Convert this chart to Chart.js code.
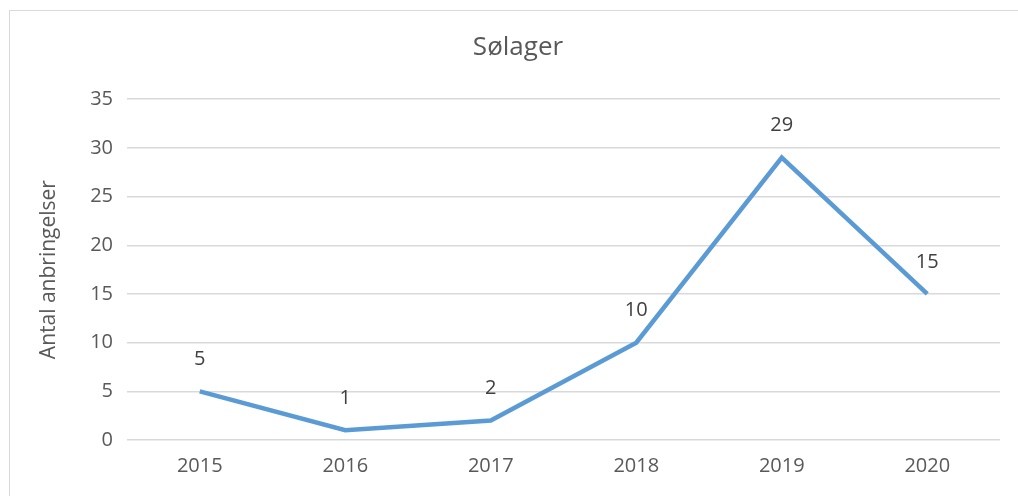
<!DOCTYPE html>
<html>
<head>
<meta charset="utf-8">
<script src="https://cdn.jsdelivr.net/npm/chart.js@4"></script>
<style>
  html, body { margin: 0; padding: 0; background: #fff; overflow: hidden; }
  #frame { position: absolute; left: 9px; top: 10px; width: 1100px; height: 600px;
           border-left: 1px solid #d9d9d9; border-top: 1px solid #d9d9d9; }
  #wrap { position: absolute; left: 0; top: 0; width: 1018px; height: 496px; }
</style>
</head>
<body>
<div id="frame"></div>
<div id="wrap"><canvas id="myChart" width="1018" height="496"></canvas></div>
<script>
// Data
const years = ['2015', '2016', '2017', '2018', '2019', '2020'];
const placements = [5, 1, 2, 10, 29, 15];
const yTicks = [0, 5, 10, 15, 20, 25, 30, 35];

const fontFamily = '"Open Sans", "Liberation Sans", sans-serif';

// draws the value above each point
const valueLabels = {
    id: 'valueLabels',
    afterDatasetsDraw(chart) {
        const ctx = chart.ctx;
        const meta = chart.getDatasetMeta(0);
        ctx.save();
        ctx.font = '20px ' + fontFamily;
        ctx.fillStyle = '#404040';
        ctx.textAlign = 'center';
        ctx.textBaseline = 'middle';
        meta.data.forEach((pt, i) => {
            ctx.fillText(String(placements[i]), pt.x, pt.y - 32);
        });
        ctx.restore();
    }
};

const config = {
    type: 'line',
    data: {
        labels: years,
        datasets: [{
            label: 'Sølager',
            data: placements,
            borderColor: '#5b9bd5',
            borderWidth: 4.5,
            pointRadius: 0,
            tension: 0,
            borderJoinStyle: 'miter'
        }]
    },
    options: {
        responsive: false,
        animation: false,
        layout: { padding: { left: 36, right: 18, top: 0, bottom: 0 } },
        plugins: {
            legend: { display: false },
            tooltip: { enabled: false },
            title: {
                display: true,
                text: 'Sølager',
                color: '#595959',
                font: { family: fontFamily, size: 26, weight: 'normal' },
                padding: { top: 32, bottom: 36 }
            }
        },
        scales: {
            x: {
                offset: true,
                grid: { display: false, drawTicks: false },
                border: { display: false },
                ticks: {
                    color: '#595959',
                    padding: 14,
                    maxRotation: 0,
                    font: { family: fontFamily, size: 20 }
                },
                afterFit: (scale) => { scale.height = 56; }
            },
            y: {
                min: 0,
                max: 35,
                afterBuildTicks: (scale) => { scale.ticks = yTicks.map(v => ({ value: v })); },
                grid: { color: '#d9d9d9', lineWidth: 1.5, drawTicks: false },
                border: { display: false },
                ticks: {
                    color: '#595959',
                    padding: 14,
                    font: { family: fontFamily, size: 20 }
                },
                title: {
                    display: true,
                    text: 'Antal anbringelser',
                    color: '#595959',
                    padding: { top: 0, bottom: 0 },
                    font: { family: fontFamily, size: 21 }
                },
                afterFit: (scale) => { scale.width = 91; }
            }
        }
    },
    plugins: [valueLabels]
};

const myChart = new Chart(document.getElementById('myChart'), config);
</script>
</body>
</html>
